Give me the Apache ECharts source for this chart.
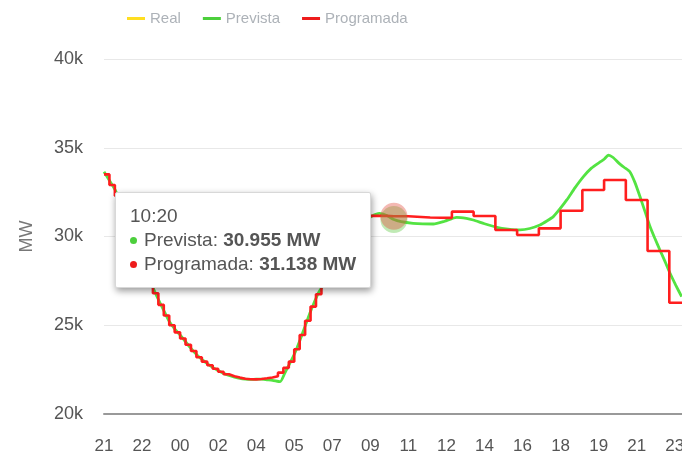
<!DOCTYPE html>
<html>
<head>
<meta charset="utf-8">
<script src="https://cdn.jsdelivr.net/npm/echarts@6/dist/echarts.min.js"></script>
<style>
  html, body { margin: 0; padding: 0; background: #fff; }
  #chart { width: 682px; height: 461px; }
</style>
</head>
<body>
<div id="chart"></div>
<script>
// x values are minutes counted from 21:00 of the day before
const startHour = 21

const prevTimes = [0, 15, 30, 45, 60, 75, 90, 105, 120, 136, 150, 165, 180, 195, 210, 225, 240, 255, 270, 285,
  300, 315, 330, 345, 360, 375, 390, 405, 420, 435, 450, 465, 486, 500, 513, 527, 541, 555, 568, 580,
  591, 605, 620, 640, 660, 680, 700, 720, 740, 760, 780, 800, 820, 853, 880, 909, 940, 973, 1000, 1019,
  1050, 1084, 1115, 1148, 1175, 1203, 1222, 1240, 1258, 1277, 1300, 1323, 1345, 1369, 1380, 1392, 1405, 1420, 1435, 1451,
  1465, 1479, 1493, 1507, 1520, 1534, 1548, 1562, 1578, 1594]
const prevValues = [33650, 33150, 32650, 31950, 31200, 30400, 29600, 28800, 27950, 27080, 26450, 25830, 25220, 24800, 24450, 24070, 23700, 23360, 23080, 22840,
  22630, 22450, 22290, 22170, 22080, 22010, 21970, 21950, 21960, 21960, 21930, 21900, 21820, 22350, 22860, 23450, 24170, 24950, 25670, 26280,
  26800, 27270, 27850, 28600, 29300, 29950, 30480, 30880, 31160, 31300, 31180, 30955, 30840, 30745, 30710, 30705, 30860, 31080, 31020, 30930,
  30720, 30520, 30420, 30370, 30450, 30650, 30870, 31120, 31550, 32060, 32750, 33370, 33850, 34200, 34350, 34590, 34450, 34150, 33900, 33650,
  33050, 32250, 31400, 30550, 29900, 29240, 28600, 27930, 27250, 26610]

const progTimes = [0, 15, 30, 45, 60, 75, 90, 105, 120, 135, 150, 165, 180, 195, 210, 225, 240, 255, 270, 285,
  300, 315, 330, 345, 360, 375, 390, 405, 420, 435, 450, 465, 480, 495, 510, 525, 540, 555, 570, 585,
  600, 615, 630, 645, 660, 675, 690, 705, 720, 780, 800, 840, 900, 960, 1020, 1080, 1140, 1200, 1260, 1320,
  1380, 1440, 1500, 1560, 1595]
const progValues = [33500, 32900, 32300, 31600, 30800, 30000, 29200, 28400, 27550, 26800, 26150, 25550, 25000, 24600, 24250, 23900, 23550, 23200, 22950, 22750,
  22550, 22380, 22240, 22130, 22050, 21990, 21960, 21950, 21970, 22010, 22060, 22130, 22330, 22600, 22950, 23650, 24450, 25250, 26050, 26750,
  27350, 27900, 28500, 29050, 29600, 30100, 30500, 30850, 31160, 31138, 31138, 31070, 31050, 31400, 31155, 30370, 30085, 30460, 31450, 32620,
  33180, 32060, 29180, 26270, 26270]

const realTimes = []
const realValues = []

const seriesNames = ['Real', 'Prevista', 'Programada']
const seriesColors = ['#ffde21', '#4ccf3c', '#ee1c1c']

// the point the tooltip is shown for (10:20)
const tipMinute = 800

function pairs(times, values) {
  return times.map((t, i) => [t, values[i]])
}

function pad(n) {
  return (n < 10 ? '0' : '') + n
}

function clock(minute) {
  const m = startHour * 60 + minute
  return pad(Math.floor(m / 60) % 24) + ':' + pad(m % 60)
}

function mw(v) {
  return String(v).replace(/\B(?=(\d{3})+(?!\d))/g, '.')
}

const font = 'Liberation Sans, Arial, sans-serif'

const option = {
  animation: false,
  textStyle: { fontFamily: font },
  color: seriesColors,
  legend: {
    left: 122,
    top: 6,
    icon: 'rect',
    itemWidth: 18,
    itemHeight: 3,
    itemGap: 22,
    textStyle: { color: '#adb2b8', fontSize: 15, fontFamily: font },
    data: seriesNames
  },
  grid: {
    left: 104,
    right: 0,
    top: 59,
    bottom: 47,
    outerBoundsMode: 'none'
  },
  tooltip: {
    trigger: 'axis',
    triggerOn: 'none',
    alwaysShowContent: true,
    transitionDuration: 0,
    position: [115, 192],
    axisPointer: { type: 'none' },
    backgroundColor: '#fff',
    borderColor: '#d8d8d8',
    borderWidth: 1,
    borderRadius: 2,
    padding: [11, 14],
    extraCssText: 'box-shadow: 1px 3px 7px rgba(0,0,0,0.4);',
    textStyle: { color: '#555', fontSize: 19, fontFamily: font },
    formatter: (params) => {
      let html = '<div style="line-height:24px">' + clock(params[0].value[0]) + '</div>'
      params.forEach((p) => {
        html += '<div style="line-height:24px">' +
          '<span style="display:inline-block;width:7px;height:7px;border-radius:50%;margin-right:7px;vertical-align:middle;background:' + p.color + '"></span>' +
          p.seriesName + ': <b>' + mw(p.value[1]) + ' MW</b></div>'
      })
      return html
    }
  },
  xAxis: {
    type: 'value',
    min: 0,
    max: 1595,
    interval: 105,
    axisLine: { lineStyle: { color: '#999', width: 2 } },
    axisTick: { show: false },
    splitLine: { show: false },
    axisLabel: {
      color: '#555',
      fontSize: 17,
      margin: 24,
      showMaxLabel: false,
      formatter: (v) => clock(v).slice(0, 2)
    }
  },
  yAxis: {
    type: 'value',
    min: 20000,
    max: 40000,
    interval: 5000,
    name: 'MW',
    nameLocation: 'middle',
    nameGap: 68,
    nameTextStyle: { color: '#777', fontSize: 18, fontFamily: font },
    axisLine: { show: false },
    axisTick: { show: false },
    splitLine: { lineStyle: { color: '#e8e8e8' } },
    axisLabel: {
      color: '#555',
      fontSize: 18,
      margin: 21,
      formatter: (v) => v / 1000 + 'k'
    }
  },
  series: [
    {
      name: seriesNames[0],
      type: 'line',
      symbol: 'none',
      lineStyle: { width: 2.5 },
      data: pairs(realTimes, realValues)
    },
    {
      name: seriesNames[1],
      type: 'line',
      symbol: 'none',
      smooth: 0.2,
      lineStyle: { width: 2.8 },
      data: pairs(prevTimes, prevValues),
      markPoint: {
        silent: true,
        symbol: 'circle',
        symbolSize: 27,
        label: { show: false },
        itemStyle: { color: 'rgba(90, 200, 60, 0.38)' },
        data: [{ coord: [tipMinute, prevValues[prevTimes.indexOf(tipMinute)]] }]
      }
    },
    {
      name: seriesNames[2],
      type: 'line',
      symbol: 'none',
      step: 'end',
      lineStyle: { width: 2.6 },
      data: pairs(progTimes, progValues),
      markPoint: {
        silent: true,
        symbol: 'circle',
        symbolSize: 27,
        label: { show: false },
        itemStyle: { color: 'rgba(225, 70, 55, 0.38)' },
        data: [{ coord: [tipMinute, progValues[progTimes.indexOf(tipMinute)]] }]
      }
    }
  ]
}

const myChart = echarts.init(document.getElementById('chart'))
myChart.setOption(option)
myChart.dispatchAction({
  type: 'showTip',
  seriesIndex: 1,
  dataIndex: prevTimes.indexOf(tipMinute)
})
</script>
</body>
</html>
